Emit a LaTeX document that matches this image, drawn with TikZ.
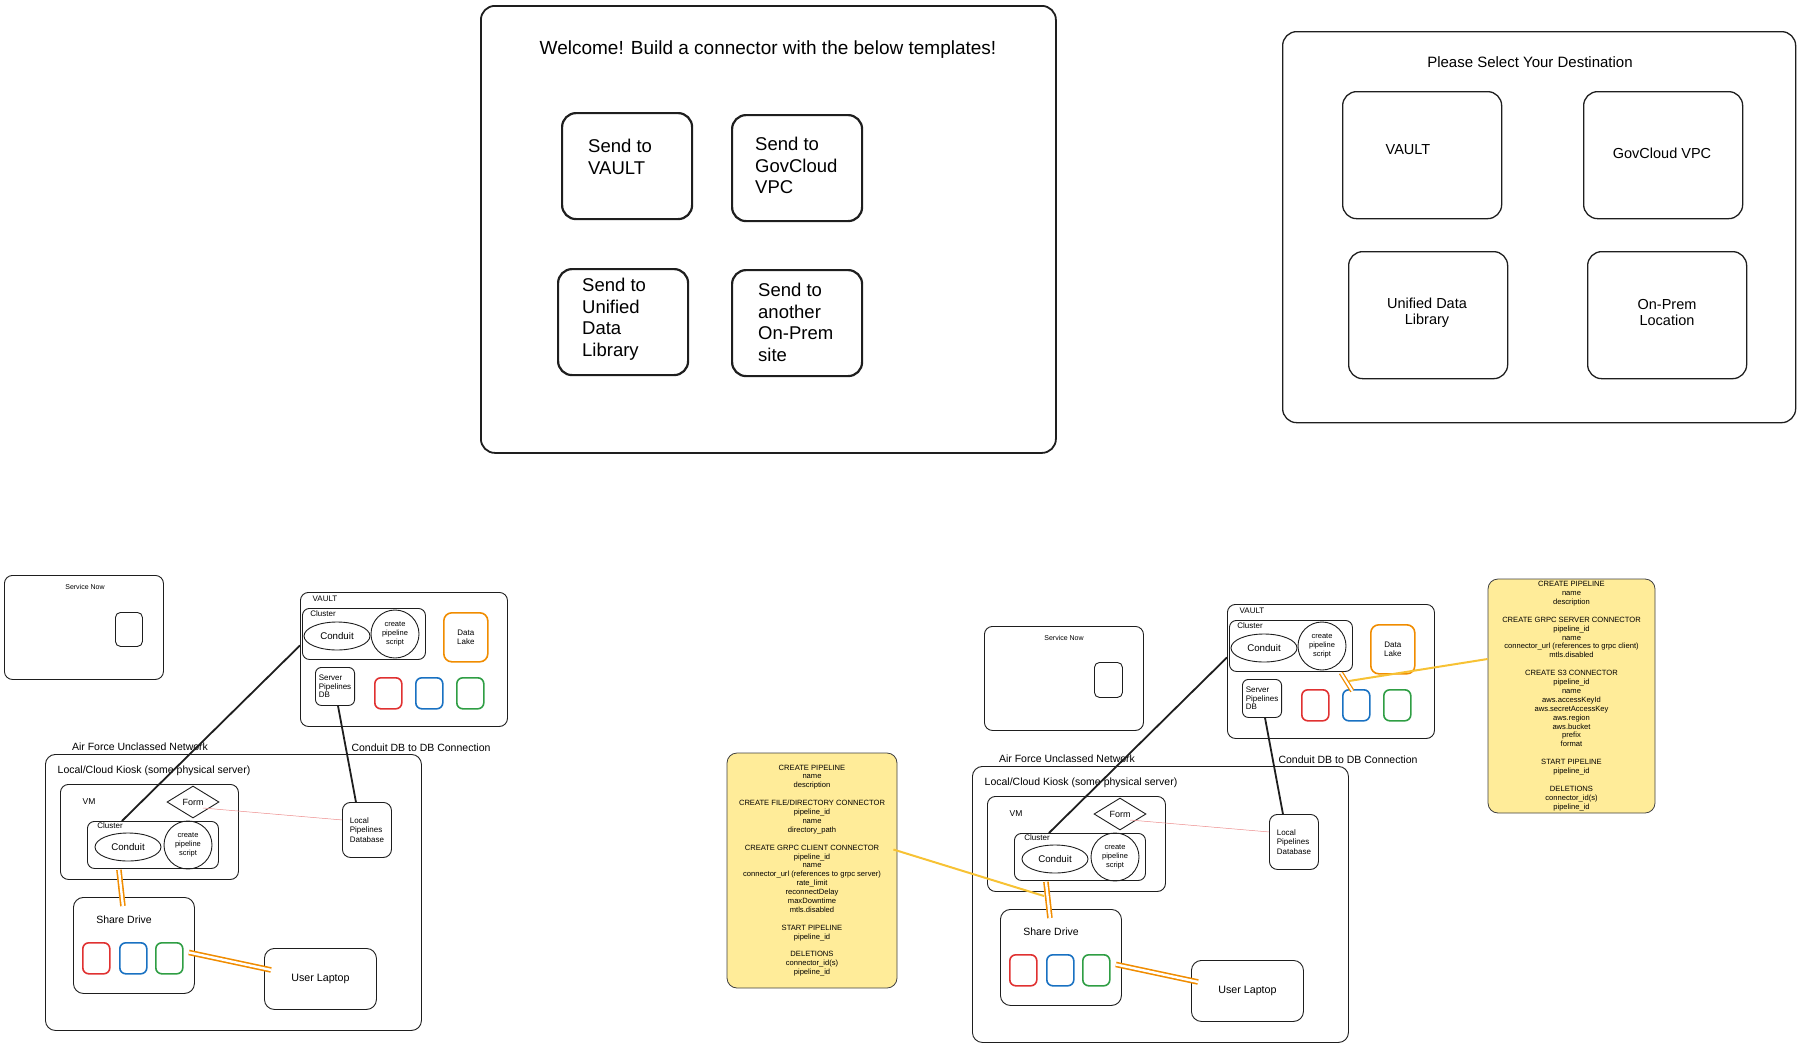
\documentclass[tikz,border=0pt]{standalone}
\usepackage{fontspec}
\setmainfont{Liberation Sans}
\usetikzlibrary{shapes.geometric}

\definecolor{ink}{HTML}{1E1E1E}
\definecolor{exred}{HTML}{E03131}
\definecolor{exblue}{HTML}{1971C2}
\definecolor{exgreen}{HTML}{2F9E44}
\definecolor{exorange}{HTML}{F08C00}
\definecolor{notefill}{HTML}{FFEC99}
\definecolor{noteline}{HTML}{F7C234}
\definecolor{formline}{HTML}{EC8C8C}

\newcommand\setfs[2]{\fontsize{#1}{#2}\selectfont}

\tikzset{
  panel/.style={draw=ink, line width=1.8pt, rounded corners=14pt, anchor=north west},
  tplbox/.style={draw=ink, line width=2.2pt, rounded corners=14pt, anchor=north west,
    minimum width=130pt, minimum height=106pt},
  tpltext/.style={anchor=north west, align=left, inner sep=0pt, font=\setfs{18.5}{21.5}},
  destbox/.style={draw=ink, line width=1.3pt, rounded corners=14pt, anchor=north west,
    minimum width=159pt, minimum height=127pt},
  desttext/.style={align=center, inner sep=0pt, font=\setfs{14.5}{16}},
  heading/.style={inner sep=0pt, font=\setfs{19}{22}},
  box/.style={draw=ink, line width=0.9pt, rounded corners=8pt, anchor=north west},
  tag/.style={inner sep=0pt, font=\setfs{8}{9.5}},
  caption/.style={inner sep=0pt, font=\setfs{10.5}{12}},
  pod/.style={draw=ink, line width=0.9pt, ellipse, minimum width=66pt, minimum height=28pt,
    inner sep=0pt, font=\setfs{9.7}{11}},
  script/.style={draw=ink, line width=0.9pt, circle, minimum size=48pt, inner sep=0pt,
    align=center, font=\setfs{7.5}{9}},
  formbox/.style={draw=ink, line width=0.9pt, diamond, minimum width=52pt, minimum height=32pt,
    inner sep=0pt, font=\setfs{9}{10}},
  bucket/.style={draw=#1, line width=1.6pt, rounded corners=6pt, anchor=north west,
    minimum width=27pt, minimum height=31pt},
  wire/.style={draw=ink, line width=1.8pt},
  formlink/.style={draw=formline, line width=0.5pt},
  pipe/.style={draw=exorange, line width=1.6pt, double=white, double distance=2.4pt},
  memo/.style={draw=noteline, line width=2pt},
  note/.style={draw=ink!85, fill=notefill, line width=0.8pt, rounded corners=10pt,
    align=center, inner sep=0pt, font=\setfs{7.6}{8.9}}
}

\newcommand\sitegroup{%
  \node[box, minimum width=207pt, minimum height=134pt] (vault) at (300,592) {};
  \node[tag] (vaulttag) at (325,599) {VAULT};
  \node[box, rounded corners=7pt, minimum width=123pt, minimum height=51pt] (vcluster) at (302,608) {};
  \node[tag] (vclustertag) at (323,614) {Cluster};
  \node[pod] (vconduit) at (337,636) {Conduit};
  \node[script] (vscript) at (395,634) {create\\pipeline\\script};
  \node[box, draw=exorange, line width=1.6pt, minimum width=44pt, minimum height=49pt,
    align=center, font=\setfs{8}{9.5}] (lake) at (443,612) {Data\\Lake};
  \node[box, rounded corners=6pt, minimum width=39pt, minimum height=38pt,
    align=left, font=\setfs{8}{8.5}] (srvdb) at (315,667) {Server\\Pipelines\\DB};
  \node[bucket=exred] (vred) at (374,677) {};
  \node[bucket=exblue] (vblue) at (415,677) {};
  \node[bucket=exgreen] (vgreen) at (456,677) {};
  \node[caption] (nettag) at (140,747) {Air Force Unclassed Network};
  \node[caption] (linktag) at (421,748) {Conduit DB to DB Connection};
  \node[box, rounded corners=10pt, minimum width=376pt, minimum height=276pt] (kiosk) at (45,754) {};
  \node[caption] (kiosktag) at (154,771) {Local/Cloud Kiosk (some physical server)};
  \node[box, minimum width=178pt, minimum height=95pt] (vm) at (60,784) {};
  \node[tag, font=\setfs{8.5}{10}] (vmtag) at (89,802) {VM};
  \node[formbox] (form) at (193,802) {Form};
  \node[box, rounded corners=7pt, minimum width=131pt, minimum height=47pt] (kcluster) at (87,821) {};
  \node[tag] (kclustertag) at (110,826) {Cluster};
  \node[pod] (kconduit) at (128,847) {Conduit};
  \node[script] (kscript) at (188,845) {create\\pipeline\\script};
  \node[box, minimum width=49pt, minimum height=55pt, align=left,
    font=\setfs{8}{9.7}] (localdb) at (342,802) {Local\\Pipelines\\Database};
  \node[box, rounded corners=10pt, minimum width=121pt, minimum height=96pt] (share) at (73,897) {};
  \node[caption] (sharetag) at (124,920) {Share Drive};
  \node[bucket=exred] (sred) at (82,942) {};
  \node[bucket=exblue] (sblue) at (119,942) {};
  \node[bucket=exgreen] (sgreen) at (155,942) {};
  \node[box, rounded corners=10pt, minimum width=112pt, minimum height=61pt,
    font=\setfs{10.7}{12}] (laptop) at (264,948) {User Laptop};
  \draw[wire] ([yshift=14pt]vault.west) -- ([xshift=-31pt]kcluster.north);
  \draw[wire] ([xshift=3pt]srvdb.south) -- ([xshift=-11pt]localdb.north);
  \draw[formlink] ([xshift=10pt,yshift=-6pt]form.center) -- ([yshift=10pt]localdb.west);
  \draw[pipe] ([xshift=-34pt,yshift=-1pt]kcluster.south) -- ([xshift=-11pt,yshift=-9pt]share.north);
  \draw[pipe] ([xshift=-6pt,yshift=-7pt]share.east) -- ([xshift=7pt,yshift=9pt]laptop.west);
}

\begin{document}
\begin{tikzpicture}[x=1pt, y=-1pt]
\useasboundingbox (0,0) rectangle (1800,1047);

\node[panel, minimum width=575pt, minimum height=447pt] (welcome) at (480,5) {};
\node[heading] (welcometag) at (768,50) {Welcome! Build a connector with the below templates!};
\node[tplbox] (tvault) at (561,112) {};
\node[tplbox] (tgov) at (731,114) {};
\node[tplbox] (tudl) at (557,268) {};
\node[tplbox] (tsite) at (731,269) {};
\node[tpltext] (tvaulttext) at (588,139) {Send to\\VAULT};
\node[tpltext] (tgovtext) at (755,137) {Send to\\GovCloud\\VPC};
\node[tpltext] (tudltext) at (582,278) {Send to\\Unified\\Data\\Library};
\node[tpltext] (tsitetext) at (758,283) {Send to\\another\\On-Prem\\site};

\node[panel, line width=1.3pt, minimum width=513pt, minimum height=391pt] (dest) at (1282,31) {};
\node[heading, font=\setfs{15}{18}] (desttag) at (1530,62) {Please Select Your Destination};
\node[destbox] (dvault) at (1342,91) {};
\node[destbox] (dgov) at (1583,91) {};
\node[destbox] (dudl) at (1348,251) {};
\node[destbox] (dsite) at (1587,251) {};
\node[desttext] (dvaulttext) at (1408,150) {VAULT};
\node[desttext] (dgovtext) at (1662,153) {GovCloud VPC};
\node[desttext] (dudltext) at (1427,313) {Unified Data\\Library};
\node[desttext] (dsitetext) at (1667,313) {On-Prem\\Location};

\node[box, minimum width=159pt, minimum height=104pt] (lsnow) at (4,575) {};
\node[tag, font=\setfs{7}{8}] (lsnowtag) at (85,587) {Service Now};
\node[box, rounded corners=5pt, minimum width=27pt, minimum height=34pt] (lsnowapp) at (115,612) {};
\node[box, minimum width=159pt, minimum height=104pt] (rsnow) at (984,626) {};
\node[tag, font=\setfs{7}{8}] (rsnowtag) at (1064,638) {Service Now};
\node[box, rounded corners=5pt, minimum width=28pt, minimum height=35pt] (rsnowapp) at (1094,662) {};

\begin{scope}[name prefix=l-]
  \sitegroup
\end{scope}
\begin{scope}[shift={(927,12)}, name prefix=r-]
  \sitegroup
\end{scope}

\node[note, minimum width=170pt, minimum height=235pt] (lnote) at (812,870.5) {CREATE PIPELINE\\name\\description\\[8.9pt]
CREATE FILE/DIRECTORY CONNECTOR\\pipeline\_id\\name\\directory\_path\\[8.9pt]
CREATE GRPC CLIENT CONNECTOR\\pipeline\_id\\name\\connector\_url (references to grpc server)\\rate\_limit\\reconnectDelay\\maxDowntime\\mtls.disabled\\[8.9pt]
START PIPELINE\\pipeline\_id\\[8.9pt]
DELETIONS\\connector\_id(s)\\pipeline\_id};
\node[note, minimum width=167pt, minimum height=234pt] (rnote) at (1571.5,696) {CREATE PIPELINE\\name\\description\\[8.9pt]
CREATE GRPC SERVER CONNECTOR\\pipeline\_id\\name\\connector\_url (references to grpc client)\\mtls.disabled\\[8.9pt]
CREATE S3 CONNECTOR\\pipeline\_id\\name\\aws.accessKeyId\\aws.secretAccessKey\\aws.region\\aws.bucket\\prefix\\format\\[8.9pt]
START PIPELINE\\pipeline\_id\\[8.9pt]
DELETIONS\\connector\_id(s)\\pipeline\_id};

\draw[pipe, line width=1.3pt, double distance=2pt] ([xshift=50pt,yshift=-1pt]r-vcluster.south) -- ([xshift=-4pt,yshift=-2pt]r-vblue.north);
\coordinate (vhook) at (1349,681);
\coordinate (khook) at (1044,896);
\draw[memo] (vhook) -- ([yshift=37pt]rnote.west);
\draw[memo] ([xshift=-4pt,yshift=21pt]lnote.east) -- (khook);
\end{tikzpicture}
\end{document}
